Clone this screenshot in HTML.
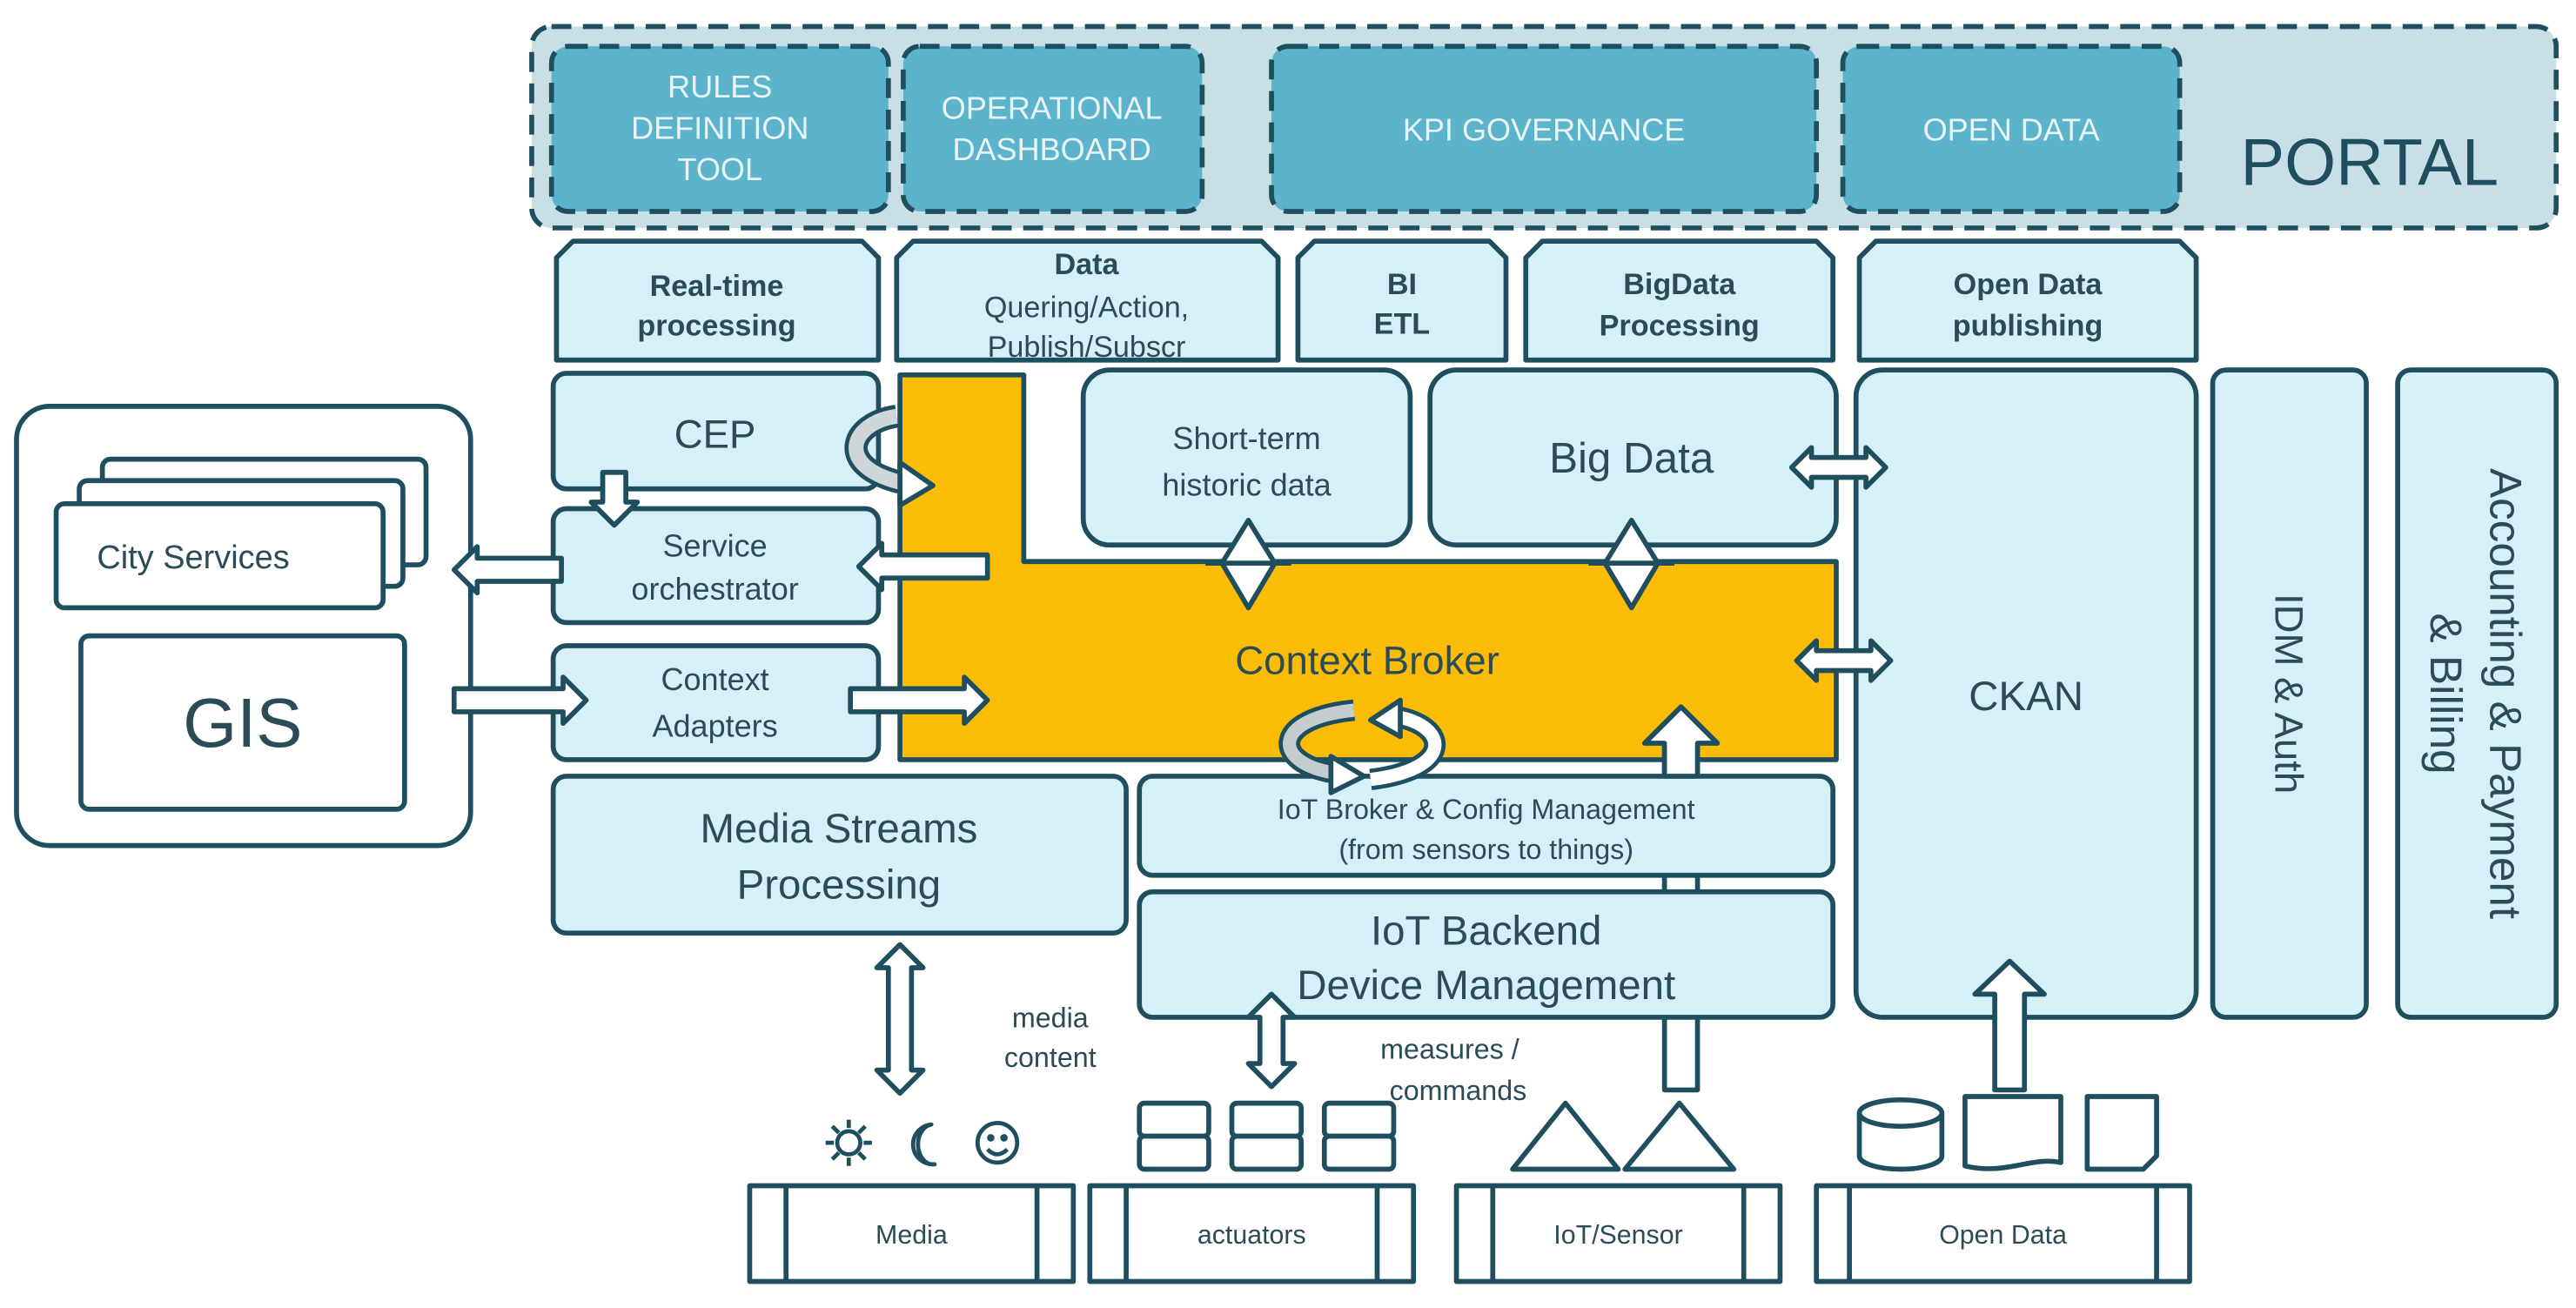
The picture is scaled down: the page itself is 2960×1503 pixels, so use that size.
<!DOCTYPE html>
<html><head><meta charset="utf-8"><style>
html,body{margin:0;padding:0;background:#fff;}
svg{display:block;}
text{font-family:"Liberation Sans",sans-serif;fill:#2b4b57;}
</style></head><body>
<svg width="2960" height="1503" viewBox="0 0 1560 792" xmlns="http://www.w3.org/2000/svg">
<g stroke="#1f4e5f" stroke-width="3" stroke-linejoin="round">
<!-- Portal -->
<rect x="322" y="16" width="1226" height="122" rx="12" fill="#c8dfe6" stroke-dasharray="12,7"/>
<rect x="334" y="28" width="204" height="100" rx="10" fill="#5bb3cc" stroke-dasharray="12,7"/>
<rect x="547" y="28" width="181" height="100" rx="10" fill="#5bb3cc" stroke-dasharray="12,7"/>
<rect x="770" y="28" width="330" height="100" rx="10" fill="#5bb3cc" stroke-dasharray="12,7"/>
<rect x="1116" y="28" width="204" height="100" rx="10" fill="#5bb3cc" stroke-dasharray="12,7"/>

<!-- tabs -->
<g fill="#d6f0f8">
<polygon points="337,218 337,156 347,146 522,146 532,156 532,218"/>
<polygon points="543,218 543,156 553,146 764,146 774,156 774,218"/>
<polygon points="786,218 786,156 796,146 902,146 912,156 912,218"/>
<polygon points="924,218 924,156 934,146 1100,146 1110,156 1110,218"/>
<polygon points="1126,218 1126,156 1136,146 1320,146 1330,156 1330,218"/>
</g>

<!-- left big box -->
<rect x="10" y="246" width="275" height="266" rx="20" fill="#fff"/>
<rect x="62" y="278" width="196" height="64" rx="5" fill="#fff"/>
<rect x="48" y="291" width="196" height="64" rx="5" fill="#fff"/>
<rect x="34" y="305" width="198" height="63" rx="5" fill="#fff"/>
<rect x="49" y="385" width="196" height="105" rx="5" fill="#fff"/>

<!-- broker -->
<polygon points="545,227 620,227 620,340 1112,340 1112,460 545,460" fill="#fbbc05"/>

<g fill="#d6f0f8">
<rect x="335" y="226" width="197" height="70" rx="8"/>
<rect x="335" y="308" width="197" height="69" rx="8"/>
<rect x="335" y="391" width="197" height="69" rx="8"/>
<rect x="656" y="224" width="198" height="106" rx="16"/>
<rect x="866" y="224" width="246" height="106" rx="16"/>
<rect x="1124" y="224" width="206" height="392" rx="16"/>
<rect x="1340" y="224" width="93" height="392" rx="8"/>
<rect x="1452" y="224" width="96" height="392" rx="8"/>
<rect x="335" y="470" width="347" height="95" rx="8"/>
</g>

<!-- up arrow through IoT -->
<polygon points="1008,660 1008,450 996,450 1018,428 1040,450 1028,450 1028,660" fill="#fff"/>
<g fill="#d6f0f8">
<rect x="690" y="470" width="420" height="60" rx="8"/>
<rect x="690" y="540" width="420" height="76" rx="8"/>
</g>
<polygon points="1008,470 1008,450 996,450 1018,428 1040,450 1028,450 1028,470" fill="#fff"/>

<!-- arrows white -->
<g fill="#fff">
<polygon points="275,417 341,417 341,410 355,424 341,438 341,431 275,431"/>
<polygon points="515,417 584,417 584,410 598,424 584,438 584,431 515,431"/>
<polygon points="340,338 289,338 289,331 275,345 289,359 289,352 340,352"/>
<polygon points="598,336 534,336 534,329 520,343 534,357 534,350 598,350"/>
<polygon points="365,286 379,286 379,304 386,304 372,318 358,304 365,304"/>
<polygon points="538,586 531,586 545,572 559,586 552,586 552,648 559,648 545,662 531,648 538,648"/>
<polygon points="763,616 756,616 770,602 784,616 777,616 777,644 784,644 770,658 756,644 763,644"/>
<polygon points="1208,660 1208,602 1196,602 1217,582 1238,602 1226,602 1226,660"/>
<polygon points="1097,277 1097,271 1085,283 1097,295 1097,289 1130,289 1130,295 1142,283 1130,271 1130,277"/>
<polygon points="1100,394 1100,388 1088,400 1100,412 1100,406 1133,406 1133,412 1145,400 1133,388 1133,394"/>
<polygon points="756,315 772,341 756,368 740,341"/>
<polygon points="988,315 1004,341 988,368 972,341"/>
</g>
<line x1="730" y1="341" x2="782" y2="341"/>
<line x1="962" y1="341" x2="1014" y2="341"/>

<!-- curved arrows -->
<path d="M543,252 C515,256 505,282 545,292" fill="none" stroke="#1f4e5f" stroke-width="14"/>
<path d="M543,252 C515,256 505,282 545,292" fill="none" stroke="#cfd6d9" stroke-width="9"/>
<polygon points="545,280 565,294 545,306" fill="#fff"/>
<path d="M820,430 C770,435 770,462 808,468" fill="none" stroke="#1f4e5f" stroke-width="13"/>
<path d="M820,430 C770,435 770,462 808,468" fill="none" stroke="#c5ccd0" stroke-width="8"/>
<polygon points="806,458 826,470 806,480" fill="#fff"/>
<path d="M830,472 C880,466 878,440 846,434" fill="none" stroke="#1f4e5f" stroke-width="13"/>
<path d="M830,472 C880,466 878,440 846,434" fill="none" stroke="#fff" stroke-width="8"/>
<polygon points="848,424 830,436 848,446" fill="#fff"/>

<!-- bottom boxes -->
<g fill="#fff">
<rect x="454" y="718" width="196" height="58"/><line x1="476" y1="718" x2="476" y2="776"/><line x1="628" y1="718" x2="628" y2="776"/>
<rect x="660" y="718" width="196" height="58"/><line x1="682" y1="718" x2="682" y2="776"/><line x1="834" y1="718" x2="834" y2="776"/>
<rect x="882" y="718" width="196" height="58"/><line x1="904" y1="718" x2="904" y2="776"/><line x1="1056" y1="718" x2="1056" y2="776"/>
<rect x="1100" y="718" width="226" height="58"/><line x1="1120" y1="718" x2="1120" y2="776"/><line x1="1306" y1="718" x2="1306" y2="776"/>
</g>
<!-- icons -->
<g fill="#fff">
<rect x="690" y="668" width="42" height="20" rx="3"/><rect x="690" y="688" width="42" height="20" rx="3"/>
<rect x="746" y="668" width="42" height="20" rx="3"/><rect x="746" y="688" width="42" height="20" rx="3"/>
<rect x="802" y="668" width="42" height="20" rx="3"/><rect x="802" y="688" width="42" height="20" rx="3"/>
<polygon points="916,708 948,668 980,708"/>
<polygon points="984,708 1017,668 1050,708"/>
<path d="M1126,674 L1126,700 A25,8 0 0 0 1176,700 L1176,674"/>
<ellipse cx="1151" cy="674" rx="25" ry="8"/>
<path d="M1190,664 L1248,664 L1248,704 C1230,700 1215,712 1190,706 Z"/>
<path d="M1264,664 L1306,664 L1306,700 L1298,708 L1264,708 Z"/>
</g>
<g fill="none" stroke-width="2.5">
<circle cx="514" cy="692" r="7"/>
<path d="M514,678v5M514,701v5M500,692h5M523,692h5M504,682l4,4M520,698l4,4M524,682l-4,4M508,698l-4,4"/>
<path d="M564,681 A12,12 0 1 0 566,705 A9,12 0 1 1 564,681 Z"/>
<circle cx="604" cy="692" r="12"/>
<circle cx="600" cy="689" r="1" fill="#1f4e5f"/><circle cx="608" cy="689" r="1" fill="#1f4e5f"/>
<path d="M598,696 Q604,702 610,696"/>
</g>
</g>

<!-- texts -->
<g text-anchor="middle">
<g font-size="19" style="fill:#e8f4f8">
<text x="436" y="59" style="fill:#e8f4f8">RULES</text>
<text x="436" y="84" style="fill:#e8f4f8">DEFINITION</text>
<text x="436" y="109" style="fill:#e8f4f8">TOOL</text>
<text x="637" y="72" style="fill:#e8f4f8">OPERATIONAL</text>
<text x="637" y="97" style="fill:#e8f4f8">DASHBOARD</text>
<text x="935" y="85" style="fill:#e8f4f8">KPI GOVERNANCE</text>
<text x="1218" y="85" style="fill:#e8f4f8">OPEN DATA</text>
</g>
<text x="1435" y="112" font-size="40" style="fill:#1f4e5f">PORTAL</text>
<g font-size="18" font-weight="bold">
<text x="434" y="179">Real-time</text><text x="434" y="203">processing</text>
<text x="658" y="166">Data</text>
<text x="658" y="192" font-weight="normal">Quering/Action,</text>
<text x="658" y="216" font-weight="normal">Publish/Subscr</text>
<text x="849" y="178">BI</text><text x="849" y="202">ETL</text>
<text x="1017" y="178">BigData</text><text x="1017" y="203">Processing</text>
<text x="1228" y="178">Open Data</text><text x="1228" y="203">publishing</text>
</g>
<text x="433" y="271" font-size="24">CEP</text>
<text x="433" y="337" font-size="19">Service</text>
<text x="433" y="363" font-size="19">orchestrator</text>
<text x="433" y="418" font-size="19">Context</text>
<text x="433" y="446" font-size="19">Adapters</text>
<text x="117" y="344" font-size="20">City Services</text>
<text x="147" y="452" font-size="42">GIS</text>
<text x="755" y="272" font-size="19">Short-term</text>
<text x="755" y="300" font-size="19">historic data</text>
<text x="988" y="286" font-size="26">Big Data</text>
<text x="828" y="408" font-size="24">Context Broker</text>
<text x="1227" y="430" font-size="25">CKAN</text>
<text x="508" y="510" font-size="25">Media Streams</text>
<text x="508" y="544" font-size="25">Processing</text>
<text x="900" y="496" font-size="17">IoT Broker &amp; Config Management</text>
<text x="900" y="520" font-size="17">(from sensors to things)</text>
<text x="900" y="572" font-size="25">IoT Backend</text>
<text x="900" y="605" font-size="25">Device Management</text>
<text x="636" y="622" font-size="17">media</text>
<text x="636" y="646" font-size="17">content</text>
<text x="878" y="641" font-size="17">measures /</text>
<text x="883" y="666" font-size="17">commands</text>
<text x="552" y="753" font-size="16">Media</text>
<text x="758" y="753" font-size="16">actuators</text>
<text x="980" y="753" font-size="16">IoT/Sensor</text>
<text x="1213" y="753" font-size="16">Open Data</text>
<text transform="translate(1378,420) rotate(90)" font-size="24">IDM &amp; Auth</text>
<text transform="translate(1508,420) rotate(90)" font-size="27">Accounting &amp; Payment</text>
<text transform="translate(1472,420) rotate(90)" font-size="27">&amp; Billing</text>
</g>
</svg>
</body></html>
